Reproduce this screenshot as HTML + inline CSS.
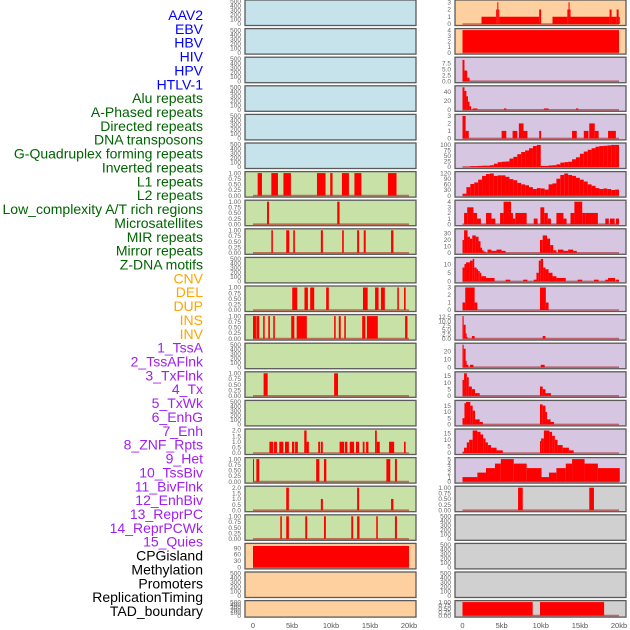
<!DOCTYPE html>
<html><head><meta charset="utf-8"><style>
body{margin:0;background:#fff;}
svg{display:block;font-family:"Liberation Sans",sans-serif;}
</style></head><body>
<svg id="chart" width="630" height="630" viewBox="0 0 630 630"></svg>
<script>
// ---------- data ----------
const trackLabels = ["AAV2","EBV","HBV","HIV","HPV","HTLV-1","Alu repeats","A-Phased repeats","Directed repeats","DNA transposons","G-Quadruplex forming repeats","Inverted repeats","L1 repeats","L2 repeats","Low_complexity A/T rich regions","Microsatellites","MIR repeats","Mirror repeats","Z-DNA motifs","CNV","DEL","DUP","INS","INV","1_TssA","2_TssAFlnk","3_TxFlnk","4_Tx","5_TxWk","6_EnhG","7_Enh","8_ZNF_Rpts","9_Het","10_TssBiv","11_BivFlnk","12_EnhBiv","13_ReprPC","14_ReprPCWk","15_Quies","CPGisland","Methylation","Promoters","ReplicationTiming","TAD_boundary"];
const labelGroups = ["virus","virus","virus","virus","virus","virus","repeat","repeat","repeat","repeat","repeat","repeat","repeat","repeat","repeat","repeat","repeat","repeat","repeat","sv","sv","sv","sv","sv","chrom","chrom","chrom","chrom","chrom","chrom","chrom","chrom","chrom","chrom","chrom","chrom","chrom","chrom","chrom","other","other","other","other","other"];
const xTickValues = [0,5,10,15,20];
const xTickLabels = ["0","5kb","10kb","15kb","20kb"];

// left column intervals [startKb, endKb, value]
const leftL1 = [[0.6,1.15,1],[2.35,3.2,1],[3.9,4.86,1],[8.2,9.3,1],[9.9,10.2,1],[11.4,12.3,1],[13,13.9,1],[17.3,18.4,1]];
const leftL2 = [[1.8,2.05,1],[10.8,11.1,1]];
const leftLowComplex = [[2.35,2.55,1],[4.26,4.65,1],[5.16,5.37,1],[8.7,8.96,1],[11.43,11.64,1],[13.35,13.6,1],[14.2,14.45,1],[17.7,18,1]];
const leftDel = [[5.03,5.67,1],[6.6,7.04,1],[7.33,7.85,1],[9.38,9.72,1],[14.1,14.7,1],[15.65,16.1,1],[16.4,16.9,1],[18.5,18.7,1],[19.36,19.57,1]];
const leftDup = [[0,0.38,1],[0.43,0.8,1],[1.3,1.5,1],[1.96,2.17,1],[2.6,2.8,1],[4.9,5.3,1],[5.6,6.9,1],[10.4,10.6,1],[11,11.25,1],[11.7,11.9,1],[14,14.4,1],[14.6,16,1],[19.5,19.8,1]];
const leftTxFlnk = [[1.36,1.88,1],[10.4,10.9,1]];
const leftEnhG = [[2.1,2.6,1],[2.7,3.07,1],[3.37,3.9,1],[4.1,4.6,1],[5,5.3,1],[5.4,5.75,1],[6.57,6.87,2],[6.87,7.16,1],[8.36,8.6,1],[8.7,8.95,1],[11.1,11.7,1],[11.8,12.1,1],[12.4,12.96,1],[13.2,13.6,1],[14.07,14.3,1],[14.5,14.8,1],[15.65,15.87,2],[15.87,16.25,1],[17.44,18.1,1],[19.36,19.57,1]];
const leftEnh = [[0,0.13,1],[0.43,0.8,1],[8.1,8.5,1],[9.1,9.4,1],[17.1,17.6,1],[18.2,18.45,1]];
const leftHet = [[4.26,4.6,2],[8.7,8.96,1],[13.35,13.6,2],[17.7,18,1]];
const leftTssBiv = [[3.5,3.7,1],[4.26,4.6,1],[6.7,6.95,1],[9.1,9.34,1],[12.6,12.84,1],[13.35,13.65,1],[15.8,16,1],[18.2,18.45,1]];
const leftCpg = [[0,20,100]];

// right column histograms [startKb, endKb, value]
const rightAav2 = [[2.43,4.3,1],[4.3,4.45,2],[4.45,4.58,3],[4.58,4.7,2],[4.7,9.8,1],[9.8,10.05,2],[11.5,13.4,1],[13.4,13.55,2],[13.55,13.68,3],[13.68,13.8,2],[13.8,18.8,1],[18.8,19.05,2],[19.05,19.7,1],[19.7,19.95,2],[19.95,20.1,1]];
const rightEbv = [[0,20,4]];
const rightHbv = [[0,0.25,9],[0.25,0.6,4.5],[0.6,0.9,1.5]];
const rightHiv = [[0,0.25,50],[0.25,0.5,42],[0.5,0.7,30],[0.7,0.9,18],[0.9,1.1,8],[1.3,1.9,3],[5.3,5.6,3],[10.4,11,3],[14.5,14.8,3]];
const rightHpv = [[0,0.4,3],[0.4,0.8,1],[5,5.6,1],[6.4,7,1],[7.2,7.8,2],[7.8,8.3,1],[9.8,10.05,1],[14,14.6,1],[15.5,16.1,1],[16.2,16.9,2],[16.9,17.4,1],[18.6,19.6,1]];
const rightHtlvValues = [1,1,4,4,5,6,6,8,15,22,24,25,38,46,58,68,75,85,95,100,5,5,7,8,12,20,22,24,35,44,60,70,78,85,92,95,96,98,100,100];
const rightAluValues = [10,45,62,70,85,105,115,118,105,108,108,100,88,82,68,60,55,45,35,40,38,32,60,65,90,110,118,110,105,95,85,75,60,52,40,35,38,35,30,32];
const rightAPhased = [[0.2,0.6,2],[0.6,1.4,3],[1.4,1.85,2],[1.85,2.35,1],[3,3.7,2],[3.7,4.2,1],[4.8,5.25,2],[5.25,6.2,4],[6.2,6.45,2],[6.45,6.75,1],[6.75,8.2,2],[9.1,9.6,1],[9.95,10.45,3],[10.45,10.9,2],[10.9,11.3,1],[12,12.9,2],[12.9,13.3,1],[13.8,14.3,2],[14.3,15.3,4],[15.3,15.75,2],[15.75,17.3,2],[18.25,18.7,1],[18.85,19.45,1],[19.6,20,1]];
const rightDirected = [[0,0.2,20],[0.2,0.65,35],[0.65,0.95,25],[0.95,1.25,22],[1.25,1.7,27],[1.7,2.05,25],[2.05,2.3,18],[2.3,2.5,8],[2.5,2.7,4],[2.7,2.95,2],[3.2,3.7,5],[3.7,4.35,3],[4.35,5,5],[5,5.5,3],[9.9,10.25,20],[10.25,10.8,27],[10.8,11.2,22],[11.2,11.6,12],[11.6,12,4],[12.2,12.9,5],[12.9,13.5,3],[13.5,14.15,5],[14.15,14.6,3]];
const rightDnaTrans = [[0,0.25,8],[0.25,0.45,10],[0.45,0.95,11],[0.95,1.3,12],[1.3,1.5,13],[1.5,1.8,8],[1.8,2,7],[2,2.2,6],[2.2,2.4,5],[2.4,3,3],[3,4.1,2],[5.5,6.1,1],[7.75,8.3,1],[9.1,9.45,1],[9.45,9.75,5],[9.75,10,12],[10,10.3,13],[10.3,10.6,8],[10.6,11,7],[11,11.5,5],[11.5,12,3],[12,13.2,2],[14.7,15.3,1],[16.8,17.4,1],[18.25,18.6,1],[18.6,19.5,2],[19.6,20,1]];
const rightInverted = [[0,0.35,1],[0.35,1.55,3],[1.55,1.9,1],[9.9,10.65,3],[10.65,11,1]];
const rightL1 = [[0,0.15,13],[0.15,0.4,8],[0.4,0.5,3],[0.5,0.65,1],[1.2,1.55,1.5],[10.25,10.6,1.5]];
const rightL2 = [[0,0.15,28],[0.15,0.4,23],[0.4,0.5,8],[0.5,0.75,3],[0.95,1.4,3],[10,10.5,3]];
const rightLowComplex = [[0,0.2,12],[0.2,0.55,17],[0.55,0.8,14],[0.8,1.2,7],[1.2,1.6,5],[1.6,2.2,2],[9.9,10.25,7],[10.25,10.6,5],[10.6,11.3,2]];
const rightMicrosat = [[0,0.25,5],[0.25,0.45,17],[0.45,1,18],[1,1.3,15],[1.3,1.6,11],[1.6,2.2,4],[2.2,2.6,2],[9.9,10.25,16],[10.25,10.6,15],[10.6,10.8,10],[10.8,11.25,4],[11.25,11.7,2]];
const rightMir = [[0,0.2,1],[0.2,0.55,4],[0.55,0.85,8],[0.85,1.3,10],[1.3,1.9,17],[1.9,2.3,16],[2.3,2.65,14],[2.65,2.95,11],[2.95,3.25,8],[3.25,3.65,6],[3.65,4.35,4],[4.35,5.15,2],[9.9,10.05,9],[10.05,10.4,11],[10.4,11.1,17],[11.1,11.45,16],[11.45,11.8,13],[11.8,12.15,10],[12.15,12.8,6],[12.8,13.6,4],[13.6,14.2,2]];
const rightMirror = [[0,1.9,1],[1.9,3,2],[3,4.15,3],[4.15,4.9,4],[4.9,6.55,5],[6.55,8.2,4],[8.2,10.1,3],[10.1,11.05,1],[11.05,12,2],[12,13.2,3],[13.2,14,4],[14,15.6,5],[15.6,17.3,4],[17.3,20.1,3]];
const rightZdna = [[7.1,7.7,1],[16.2,16.8,1]];
const rightTad = [[0,8.97,1],[9.9,18.1,1]];

// ---------- tick sets ----------
const ticks500 = [0,100,200,300,400,500];
const ticksBin = [0,0.25,0.5,0.75,1];
const ticksBinLabels = ["0.00","0.25","0.50","0.75","1.00"];
const ticks2 = [0,0.5,1,1.5,2];
const ticks2Labels = ["0.0","0.5","1.0","1.5","2.0"];

function binsToIntervals(vals){ // equal-width bins over 0..20kb
  const out=[]; const w=20/vals.length;
  vals.forEach((v,i)=>out.push([i*w,(i+1)*w,v])); return out;
}

const BG = {blue:"#c6e3eb",green:"#c8e1a7",peach:"#ffd09f",purple:"#d6c6e2",gray:"#d0d0d0"};
function T(bg,data,ymax,ticks,labels){return {bg,data,ymax,ticks,labels:labels||ticks.map(String)};}
const E500 = c=>T(c,[],500,ticks500);

const leftTracks = [
  E500("blue"),E500("blue"),E500("blue"),E500("blue"),E500("blue"),E500("blue"),
  T("green",leftL1,1,ticksBin,ticksBinLabels),
  T("green",leftL2,1,ticksBin,ticksBinLabels),
  T("green",leftLowComplex,1,ticksBin,ticksBinLabels),
  E500("green"),
  T("green",leftDel,1,ticksBin,ticksBinLabels),
  T("green",leftDup,1,ticksBin,ticksBinLabels),
  E500("green"),
  T("green",leftTxFlnk,1,ticksBin,ticksBinLabels),
  E500("green"),
  T("green",leftEnhG,2,ticks2,ticks2Labels),
  T("green",leftEnh,1,ticksBin,ticksBinLabels),
  T("green",leftHet,2,ticks2,ticks2Labels),
  T("green",leftTssBiv,1,ticksBin,ticksBinLabels),
  T("peach",leftCpg,105,[0,30,60,90]),
  E500("peach"),E500("peach")
];
const rightTracks = [
  T("peach",rightAav2,3.1,[0,1,2,3]),
  T("peach",rightEbv,4,[0,1,2,3,4]),
  T("purple",rightHbv,9.5,[0,2.5,5,7.5],["0.0","2.5","5.0","7.5"]),
  T("purple",rightHiv,50,[0,20,40]),
  T("purple",rightHpv,3,[0,1,2,3]),
  T("purple",binsToIntervals(rightHtlvValues),102,[0,25,50,75,100]),
  T("purple",binsToIntervals(rightAluValues),120,[0,30,60,90,120]),
  T("purple",rightAPhased,4,[0,1,2,3,4]),
  T("purple",rightDirected,35,[0,10,20,30]),
  T("purple",rightDnaTrans,13,[0,5,10]),
  T("purple",rightInverted,3,[0,1,2,3]),
  T("purple",rightL1,13,[0,2.5,5,7.5,10,12.5],["0.0","2.5","5.0","7.5","10.0","12.5"]),
  T("purple",rightL2,28,[0,10,20]),
  T("purple",rightLowComplex,17,[0,5,10,15]),
  T("purple",rightMicrosat,18,[0,5,10,15]),
  T("purple",rightMir,17,[0,5,10,15]),
  T("purple",rightMirror,5,[0,1,2,3,4,5]),
  T("gray",rightZdna,1,ticksBin,ticksBinLabels),
  E500("gray"),E500("gray"),E500("gray"),
  T("gray",rightTad,1,ticksBin,ticksBinLabels)
];

// ---------- drawing ----------
const NS="http://www.w3.org/2000/svg";
const svg=document.getElementById("chart");
function el(tag,attrs,parent){const e=document.createElementNS(NS,tag);for(const k in attrs)e.setAttribute(k,attrs[k]);(parent||svg).appendChild(e);return e;}

const COLS=[{x0:245,x1:416,d0:253,d1:409,tickX:241},{x0:455,x1:626,d0:462.5,d1:619,tickX:451}];
function xScale(col,kb){return col.d0+(col.d1-col.d0)*kb/20;}
function rowTop(i){return i*28.6;}
function rowH(i){return i===21?16.5:25.5;}

function drawPanel(col,track,i,name){
  const g=el("g",{});
  
  
  const top=rowTop(i),h=rowH(i);
  el("rect",{x:col.x0,y:top,width:col.x1-col.x0,height:h,fill:BG[track.bg],stroke:"#5a5a5a","stroke-width":1.3},g);
  const yS=v=>top+h-1.5-(v/track.ymax)*(h-3);
  track.ticks.forEach((t,k)=>{
    const tx=el("text",{x:col.tickX,y:yS(t)+2.2,"text-anchor":"end","font-size":"6.5",fill:"#666"},g);
    
    
    tx.textContent=track.labels[k];
  });
  if(track.data.length){
    el("line",{x1:xScale(col,0),x2:xScale(col,20),y1:yS(0),y2:yS(0),stroke:"rgba(170,0,0,0.5)","stroke-width":1.6},g);
  }
  track.data.forEach(d=>{
    const x=xScale(col,d[0]),w=Math.max(1,xScale(col,d[1])-x);
    const r=el("rect",{x:x,y:yS(d[2]),width:w,height:yS(0)-yS(d[2]),fill:"#ff0000"},g);
    
    
  });
}
leftTracks.forEach((t,i)=>drawPanel(COLS[0],t,i,'left-track-panel'));
rightTracks.forEach((t,i)=>drawPanel(COLS[1],t,i,'right-track-panel'));

COLS.forEach(col=>{
  xTickValues.forEach((v,k)=>{
    const tx=el("text",{x:xScale(col,v),y:628,"text-anchor":"middle","font-size":"7.5",fill:"#555"});
    
    
    tx.textContent=xTickLabels[k];
  });
});

const groupColor={virus:"#0000ff",repeat:"#006400",sv:"#ffa500",chrom:"#a020f0",other:"#000000"};
const labelStep=(611-15)/(trackLabels.length-1);
trackLabels.forEach((s,i)=>{
  const tx=el("text",{x:203,y:15+i*labelStep+5,"text-anchor":"end","font-size":"14",fill:groupColor[labelGroups[i]]});
  
  
  tx.textContent=s;
});
</script>
</body></html>
